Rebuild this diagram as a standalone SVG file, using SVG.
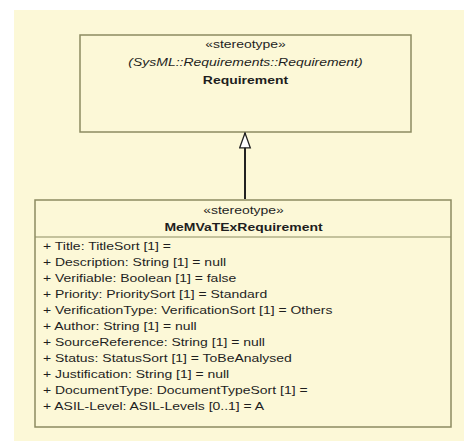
<svg xmlns="http://www.w3.org/2000/svg" width="464" height="441" viewBox="0 0 464 441">
<defs>
<style>
text{font-family:"Liberation Sans",Arial,sans-serif;font-size:11px;fill:#1e1e1e}
.c{text-anchor:middle}
.b{font-weight:bold}
.i{font-style:italic}
.box{fill:#fcf8d7;stroke:#8c8b62;stroke-width:1.5}
</style>
<marker id="gen" markerWidth="17" markerHeight="13" refX="15.5" refY="6" orient="auto" markerUnits="userSpaceOnUse" viewBox="0 0 17 12">
<path d="M15.5,6 L0.7,0.7 L0.7,11.3 Z" fill="#ffffff" stroke="#222" stroke-width="1.3"/>
</marker>
</defs>
<rect x="0" y="0" width="464" height="441" fill="#ffffff"/>
<rect x="14" y="10" width="450" height="431" fill="#fcf8d7"/>
<g id="requirement">
<rect class="box" x="80" y="35" width="331" height="97"/>
<g transform="translate(245.5,0) scale(1.27,1)">
<text class="c" x="0" y="48">«stereotype»</text>
<text class="c i" x="0" y="66">(SysML::Requirements::Requirement)</text>
<text class="c b" x="0" y="84">Requirement</text>
</g>
</g>
<g id="memvatex">
<rect class="box" x="35" y="200" width="416" height="227"/>
<line x1="35" y1="237" x2="451" y2="237" stroke="#8c8b62" stroke-width="1.2"/>
<g transform="translate(243.5,0) scale(1.27,1)">
<text class="c" x="0" y="214">«stereotype»</text>
<text class="c b" x="0" y="231">MeMVaTExRequirement</text>
</g>
<g transform="translate(43,0) scale(1.27,1)">
<text x="0" y="250.5">+ Title: TitleSort [1] =</text>
<text x="0" y="266.5">+ Description: String [1] = null</text>
<text x="0" y="282.5">+ Verifiable: Boolean [1] = false</text>
<text x="0" y="298.5">+ Priority: PrioritySort [1] = Standard</text>
<text x="0" y="314.5">+ VerificationType: VerificationSort [1] = Others</text>
<text x="0" y="330.5">+ Author: String [1] = null</text>
<text x="0" y="346.5">+ SourceReference: String [1] = null</text>
<text x="0" y="362.5">+ Status: StatusSort [1] = ToBeAnalysed</text>
<text x="0" y="378.5">+ Justification: String [1] = null</text>
<text x="0" y="394.5">+ DocumentType: DocumentTypeSort [1] =</text>
<text x="0" y="410.5">+ ASIL-Level: ASIL-Levels [0..1] = A</text>
</g>
</g>
<g id="connectors">
<line x1="245" y1="199" x2="245" y2="133" stroke="#222" stroke-width="2" marker-end="url(#gen)"/>
</g>
</svg>
